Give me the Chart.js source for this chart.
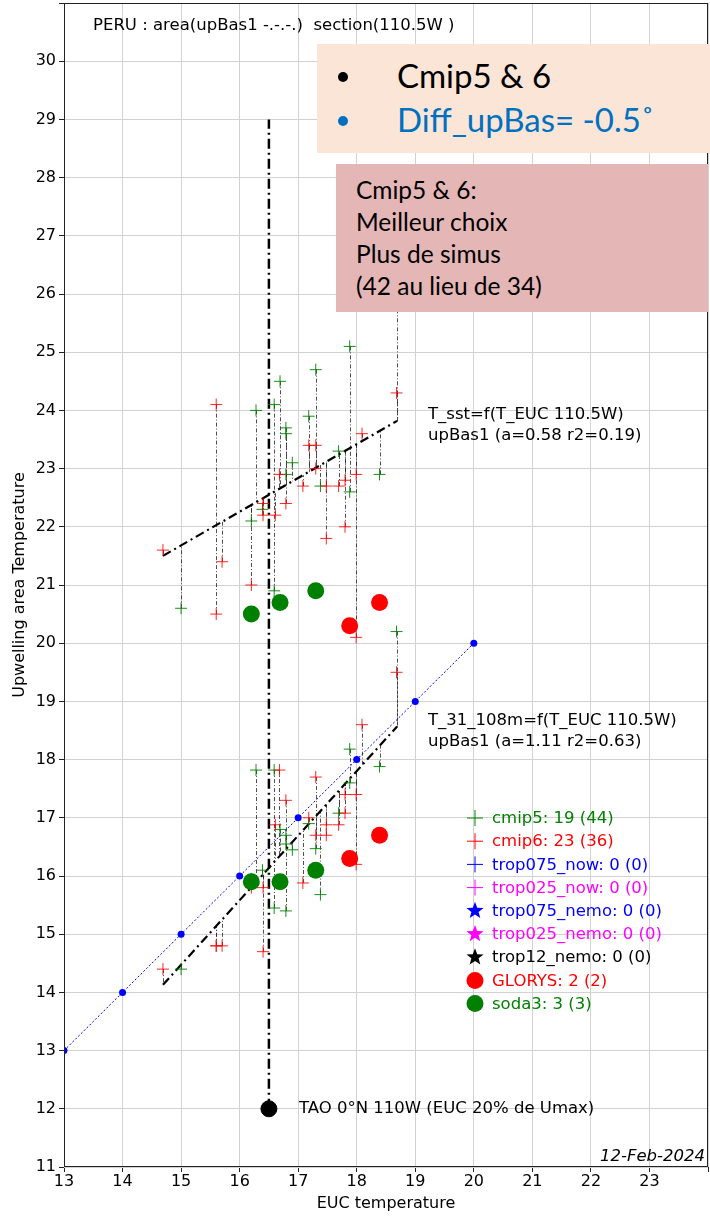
<!DOCTYPE html>
<html>
<head>
<meta charset="utf-8">
<script src="https://cdn.jsdelivr.net/npm/chart.js@4.4.1/dist/chart.umd.min.js"></script>
<style>
  html, body { margin: 0; padding: 0; background: #fff; }
  #wrap { position: relative; width: 710px; height: 1217px; overflow: hidden; }
  canvas { display: block; }
  .box { position: absolute; font-family: Lato, "Open Sans", sans-serif; }
  #peach { left: 317px; top: 44px; width: 393px; height: 109px; background: #fbe5d6; }
  #pink { left: 336px; top: 164px; width: 372px; height: 148px; background: #e5b6b6; }
  .bl { position: absolute; left: 80px; font-size: 33px; white-space: nowrap; }
  .dot { position: absolute; left: 21px; width: 10px; height: 10px; border-radius: 50%; }
  .pl { position: absolute; left: 20px; font-size: 24.5px; color: #000; white-space: nowrap; }
</style>
</head>
<body>
<div id="wrap">
  <canvas id="c" width="710" height="1217"></canvas>
  <div class="box" id="peach">
    <div class="dot" style="top:28px;background:#000"></div>
    <div class="bl" style="top:11px;color:#000">Cmip5 &amp; 6</div>
    <div class="dot" style="top:72px;background:#0070c0"></div>
    <div class="bl" style="top:55px;color:#0070c0">Diff_upBas= -0.5˚</div>
  </div>
  <div class="box" id="pink">
    <div class="pl" style="top:11px">Cmip5 &amp; 6:</div>
    <div class="pl" style="top:43px">Meilleur choix</div>
    <div class="pl" style="top:75px">Plus de simus</div>
    <div class="pl" style="top:107px">(42 au lieu de 34)</div>
  </div>
</div>
<script>
// ---- axis ticks ----
const xTickValues = [13, 14, 15, 16, 17, 18, 19, 20, 21, 22, 23];
const yTickValues = [11, 12, 13, 14, 15, 16, 17, 18, 19, 20, 21, 22, 23, 24, 25, 26, 27, 28, 29, 30];

// ---- cmip5 models: EUC temperature, SST of the upwelling area, T_31_108m ----
const cmip5X   = [15.00, 16.20, 16.28, 16.59, 16.59, 16.69, 16.79, 16.79, 16.79, 16.90, 17.18, 17.30, 17.38, 17.69, 17.88, 17.88, 18.39, 18.68, 16.39];
const cmip5Sst = [20.6, 22.1, 24.0, 24.1, 20.9, 24.5, 23.7, 23.6, 22.9, 23.1, 23.9, 24.7, 22.7, 23.3, 25.1, 22.6, 22.9, 26.2, 22.3];
const cmip5Sub = [14.4, 15.95, 17.82, 17.82, 15.45, 16.8, 16.7, 15.4, 16.55, 16.45, 16.9, 16.47, 15.68, 17.08, 18.18, 17.6, 17.88, 20.2, 16.1];

// ---- cmip6 models ----
const cmip6X   = [15.60, 14.69, 15.70, 16.20, 15.60, 16.40, 16.40, 16.61, 16.68, 16.79, 17.08, 17.18, 17.30, 17.30, 17.48, 17.48, 17.69, 17.80, 17.80, 17.99, 18.09, 18.68, 17.99];
const cmip6Sst = [24.1, 21.6, 21.4, 21.0, 20.5, 22.4, 22.2, 22.2, 22.9, 22.4, 22.7, 23.4, 23.4, 23.0, 22.7, 21.8, 22.7, 22.8, 22.0, 22.9, 23.6, 24.3, 20.1];
const cmip6Sub = [14.8, 14.4, 14.8, 15.8, 14.8, 15.8, 14.7, 16.88, 17.82, 17.3, 15.88, 17.0, 17.7, 16.7, 16.88, 16.7, 16.88, 17.4, 17.08, 17.4, 18.6, 19.5, 16.2];

// ---- reanalyses ----
const glorysX   = [17.88, 18.39];
const glorysSst = [20.3, 20.7];
const glorysSub = [16.3, 16.7];
const soda3X    = [16.20, 16.69, 17.30];
const soda3Sst  = [20.5, 20.7, 20.9];
const soda3Sub  = [15.9, 15.9, 16.1];

// ---- 1:1 reference ----
const oneToOneX = [13, 14, 15, 16, 17, 18, 19, 20];
const oneToOneY = [13, 14, 15, 16, 17, 18, 19, 20];

// ---- TAO observation (0N 110W) ----
const taoX = 16.5;
const taoY = 12;
const taoTop = 29;

// ---- linear fits (slope a, intercept b) over the model range ----
const fitSst = { a: 0.58, b: 12.98, r2: 0.19 };
const fitSub = { a: 1.11, b: -2.176, r2: 0.63 };
const fitRange = [14.69, 18.69];

const GREEN = '#008000', RED = '#ff0000', BLUE = '#0000ff', MAGENTA = '#ff00ff';
const FONT = "'DejaVu Sans', sans-serif";

const pts = (xs, ys) => xs.map((x, i) => ({ x: x, y: ys[i] }));
const fitPts = f => fitRange.map(x => ({ x: x, y: f.a * x + f.b }));

const datasets = [
  { label: 'soda3: 3 (3)', data: pts(soda3X, soda3Sst).concat(pts(soda3X, soda3Sub)), pointStyle: 'circle',
    pointRadius: 8.5, backgroundColor: GREEN, borderColor: GREEN, borderWidth: 0, order: 1, legendStyle: 'circle' },
  { label: 'GLORYS: 2 (2)', data: pts(glorysX, glorysSst).concat(pts(glorysX, glorysSub)), pointStyle: 'circle',
    pointRadius: 8.5, backgroundColor: RED, borderColor: RED, borderWidth: 0, order: 1, legendStyle: 'circle' },
  { label: 'cmip6: 23 (36)', data: pts(cmip6X, cmip6Sst).concat(pts(cmip6X, cmip6Sub)), pointStyle: 'cross',
    pointRadius: 6, borderColor: 'rgba(255,0,0,0.85)', borderWidth: 1, order: 2, legendStyle: 'cross' },
  { label: 'cmip5: 19 (44)', data: pts(cmip5X, cmip5Sst).concat(pts(cmip5X, cmip5Sub)), pointStyle: 'cross',
    pointRadius: 6, borderColor: 'rgba(0,128,0,0.9)', borderWidth: 1, order: 3, legendStyle: 'cross' },
  { label: 'trop075_now: 0 (0)', data: [], borderColor: BLUE, backgroundColor: BLUE, legendStyle: 'cross' },
  { label: 'trop025_now: 0 (0)', data: [], borderColor: MAGENTA, backgroundColor: MAGENTA, legendStyle: 'cross' },
  { label: 'trop075_nemo: 0 (0)', data: [], borderColor: BLUE, backgroundColor: BLUE, legendStyle: 'star' },
  { label: 'trop025_nemo: 0 (0)', data: [], borderColor: MAGENTA, backgroundColor: MAGENTA, legendStyle: 'star' },
  { label: 'trop12_nemo: 0 (0)', data: [], borderColor: '#000', backgroundColor: '#000', legendStyle: 'star' },
  { label: 'TAO', type: 'line', data: [{ x: taoX, y: taoY }], showLine: false, pointRadius: 8,
    backgroundColor: '#000', borderColor: '#000', order: 0 },
  { label: 'TAO line', type: 'line', data: [{ x: taoX, y: taoY }, { x: taoX, y: taoTop }], pointRadius: 0,
    borderColor: '#000', borderWidth: 2.5, borderDash: [10, 4, 2, 4], order: 5 },
  { label: 'fit sst', type: 'line', data: fitPts(fitSst), pointRadius: 0,
    borderColor: '#000', borderWidth: 2.2, borderDash: [9, 4, 2, 4], order: 4 },
  { label: 'fit sub', type: 'line', data: fitPts(fitSub), pointRadius: 0,
    borderColor: '#000', borderWidth: 2.2, borderDash: [9, 4, 2, 4], order: 4 },
  { label: '1:1', type: 'line', data: pts(oneToOneX, oneToOneY), pointRadius: 3.5,
    pointBackgroundColor: BLUE, pointBorderWidth: 0, borderColor: BLUE, borderWidth: 1, borderDash: [2, 2], order: 6 }
];
const legendOrder = ['cmip5: 19 (44)', 'cmip6: 23 (36)', 'trop075_now: 0 (0)', 'trop025_now: 0 (0)',
  'trop075_nemo: 0 (0)', 'trop025_nemo: 0 (0)', 'trop12_nemo: 0 (0)', 'GLORYS: 2 (2)', 'soda3: 3 (3)'];

// thin dash-dot residuals from each model point to its fit line
const residuals = {
  id: 'residuals',
  beforeDatasetsDraw(chart) {
    const { ctx, chartArea, scales: { x, y } } = chart;
    ctx.save();
    ctx.beginPath();
    ctx.rect(chartArea.left, chartArea.top, chartArea.width, chartArea.height);
    ctx.clip();
    ctx.strokeStyle = '#222';
    ctx.lineWidth = 0.8;
    ctx.setLineDash([4, 2, 1, 2]);
    const draw = (xs, ys, f) => xs.forEach((v, i) => {
      const px = Math.round(x.getPixelForValue(v)) + 0.5;
      ctx.beginPath();
      ctx.moveTo(px, y.getPixelForValue(ys[i]));
      ctx.lineTo(px, y.getPixelForValue(f.a * v + f.b));
      ctx.stroke();
    });
    draw(cmip5X, cmip5Sst, fitSst); draw(cmip5X, cmip5Sub, fitSub);
    draw(cmip6X, cmip6Sst, fitSst); draw(cmip6X, cmip6Sub, fitSub);
    ctx.restore();
  }
};

function star(ctx, cx, cy, r) {
  ctx.beginPath();
  for (let k = 0; k < 10; k++) {
    const rr = k % 2 ? r * 0.42 : r;
    const ang = -Math.PI / 2 + k * Math.PI / 5;
    const px = cx + rr * Math.cos(ang), py = cy + rr * Math.sin(ang);
    k ? ctx.lineTo(px, py) : ctx.moveTo(px, py);
  }
  ctx.closePath();
  ctx.fill();
}

// frame, tick labels, texts and the marker legend
const overlay = {
  id: 'overlay',
  afterDraw(chart) {
    const { ctx, chartArea: a, scales: { x, y } } = chart;
    ctx.save();
    ctx.strokeStyle = '#222';
    ctx.lineWidth = 1;
    ctx.setLineDash([]);
    ctx.strokeRect(a.left + 0.5, a.top + 0.5, a.width - 1, a.height - 1);

    ctx.fillStyle = '#000';
    ctx.textBaseline = 'middle';
    ctx.font = '16px ' + FONT;
    ctx.textAlign = 'center';
    xTickValues.forEach(v => ctx.fillText(String(v), x.getPixelForValue(v), a.bottom + 15));
    ctx.textAlign = 'right';
    yTickValues.forEach(v => ctx.fillText(String(v), a.left - 8, y.getPixelForValue(v)));

    ctx.textAlign = 'left';
    ctx.font = '16.5px ' + FONT;
    ctx.fillText('PERU : area(upBas1 -.-.-.)  section(110.5W )', 93, 26);
    ctx.fillText('T_sst=f(T_EUC 110.5W)', 428, 415);
    ctx.fillText('upBas1 (a=' + fitSst.a.toFixed(2) + ' r2=' + fitSst.r2.toFixed(2) + ')', 428, 436);
    ctx.fillText('T_31_108m=f(T_EUC 110.5W)', 428, 721);
    ctx.fillText('upBas1 (a=' + fitSub.a.toFixed(2) + ' r2=' + fitSub.r2.toFixed(2) + ')', 428, 742);
    ctx.fillText('TAO 0°N 110W (EUC 20% de Umax)', x.getPixelForValue(taoX) + 30, y.getPixelForValue(taoY));

    ctx.font = 'italic 16.5px ' + FONT;
    ctx.textAlign = 'right';
    ctx.fillText('12-Feb-2024', a.right - 3, a.bottom - 10);

    // legend
    ctx.textAlign = 'left';
    ctx.font = '16.5px ' + FONT;
    legendOrder.forEach((lab, i) => {
      const ds = chart.data.datasets.find(d => d.label === lab);
      const cy = 818 + i * 23.2, cx = 475;
      const col = ds.legendStyle === 'cross' ? (lab.startsWith('cmip5') ? GREEN : lab.startsWith('cmip6') ? RED : ds.borderColor) : ds.backgroundColor;
      ctx.fillStyle = col; ctx.strokeStyle = col;
      if (ds.legendStyle === 'cross') {
        ctx.lineWidth = 1;
        ctx.beginPath();
        ctx.moveTo(cx - 8, cy); ctx.lineTo(cx + 8, cy);
        ctx.moveTo(cx, cy - 8); ctx.lineTo(cx, cy + 8);
        ctx.stroke();
      } else if (ds.legendStyle === 'star') {
        star(ctx, cx, cy, 9);
      } else {
        ctx.beginPath(); ctx.arc(cx, cy, 8.5, 0, Math.PI * 2); ctx.fill();
      }
      ctx.fillText(lab, 492, cy + 1);
    });
    ctx.restore();
  }
};

new Chart(document.getElementById('c'), {
  type: 'scatter',
  data: { datasets: datasets },
  options: {
    responsive: false,
    animation: false,
    layout: { autoPadding: false, padding: { top: 3, right: 2, left: 0, bottom: 0 } },
    plugins: { legend: { display: false }, tooltip: { enabled: false } },
    scales: {
      x: {
        type: 'linear', min: 13, max: 24,
        afterFit: s => { s.height = 50; },
        border: { display: false },
        grid: { color: '#d2d2d2', lineWidth: 1, tickLength: 5, tickColor: '#222' },
        ticks: { stepSize: 1, autoSkip: false, display: false },
        title: { display: true, text: 'EUC temperature', color: '#000', font: { family: FONT, size: 16 }, padding: { top: 0, bottom: 4 } }
      },
      y: {
        type: 'linear', min: 11, max: 31,
        afterFit: s => { s.width = 64; },
        border: { display: false },
        grid: { color: '#d2d2d2', lineWidth: 1, tickLength: 5, tickColor: '#222' },
        ticks: { stepSize: 1, autoSkip: false, display: false },
        title: { display: true, text: 'Upwelling area Temperature', color: '#000', font: { family: FONT, size: 16 }, padding: { top: 10, bottom: 0 } }
      }
    }
  },
  plugins: [residuals, overlay]
});
</script>
</body>
</html>
